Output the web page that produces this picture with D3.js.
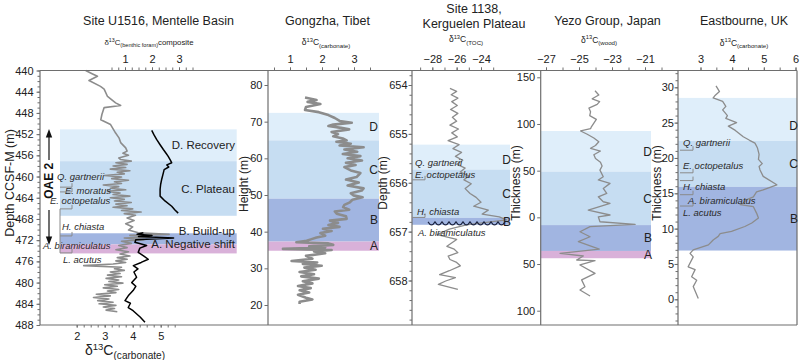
<!DOCTYPE html>
<html>
<head>
<meta charset="utf-8">
<script src="https://cdn.jsdelivr.net/npm/d3@7"></script>
<style>
body { margin: 0; background: #fff; }
svg text { font-family: "Liberation Sans", Arial, sans-serif; }
</style>
</head>
<body>
<div id="chart"></div>
<script>
// ---- Site U1516, Mentelle Basin ----
var u1516CarbDepth = [440.0, 440.6, 441.1, 441.9, 443.0, 443.5, 444.9, 446.1, 446.6, 447.0, 448.3, 449.3, 450.2, 451.0, 451.8, 452.7, 453.6, 454.6, 455.2, 455.6, 456.0, 456.5, 456.8, 457.1, 457.4, 457.7, 458.0, 458.3, 458.6, 458.9, 459.2, 459.5, 459.8, 460.1, 460.4, 460.7, 461.0, 461.3, 461.6, 461.9, 462.2, 462.5, 462.8, 463.1, 463.4, 463.7, 464.0, 464.3, 464.6, 464.9, 465.2, 465.5, 465.8, 466.1, 466.4, 466.7, 467.0, 467.3, 467.8, 468.3, 468.9, 469.5, 470.1, 470.6, 470.9, 471.1, 471.4, 471.6, 471.9, 472.2, 472.6, 473.0, 473.4, 473.8, 474.2, 474.6, 475.0, 475.3, 475.6, 475.9, 476.2, 476.5, 476.8, 477.1, 477.4, 477.7, 478.0, 478.3, 478.6, 478.9, 479.2, 479.5, 479.8, 480.1, 480.4, 480.7, 481.0, 481.3, 481.6, 481.9, 482.2, 482.5, 482.8, 483.1, 483.4, 483.7, 484.0, 484.3, 484.6, 484.9, 485.2, 485.5];
var u1516CarbValue = [2.32, 2.55, 2.74, 2.44, 2.85, 2.98, 3.10, 3.39, 3.57, 2.98, 2.90, 2.86, 3.21, 3.30, 3.39, 3.51, 3.57, 3.75, 3.80, 3.65, 3.85, 3.50, 3.57, 3.95, 3.40, 3.80, 3.30, 3.75, 3.20, 3.90, 3.45, 3.70, 3.00, 3.60, 3.25, 3.85, 3.35, 3.60, 2.95, 3.50, 3.20, 3.75, 3.10, 3.55, 3.30, 3.90, 3.20, 3.70, 3.35, 3.95, 3.40, 3.80, 3.30, 4.00, 3.60, 4.30, 3.70, 4.10, 3.80, 4.05, 3.75, 4.00, 3.85, 4.20, 5.30, 3.90, 4.60, 3.70, 4.40, 3.60, 3.95, 3.50, 3.80, 3.40, 3.85, 3.55, 3.90, 3.45, 3.80, 3.40, 3.75, 3.30, 2.25, 3.60, 3.35, 3.70, 3.20, 3.55, 3.10, 3.60, 3.05, 3.50, 3.15, 3.65, 3.00, 3.45, 2.95, 3.50, 3.10, 3.40, 2.70, 3.20, 2.60, 3.15, 2.75, 3.30, 2.80, 3.40, 2.95, 3.35, 3.05, 3.45];
// benthic composite, two segments (null = gap)
var u1516BenthicDepth = [451.3, 452.2, 453.0, 454.0, 454.9, 455.6, 456.2, 456.9, 457.4, 457.8, 458.2, 458.7, 459.3, 460.5, 461.5, 462.4, 463.7, 464.6, 465.6, 466.3, 466.9, null, 470.6, 470.9, 471.1, 471.3, 471.6, 471.9, 472.4, 473.0, 473.5, 474.3, 475.0, 475.6, 476.2, 476.8, 477.4, 478.0, 479.0, 480.0, 480.7, 481.5, 482.5, 483.4, 483.9, 484.7, 485.3, 486.5, 487.5];
var u1516BenthicValue = [1.99, 2.08, 2.17, 2.30, 2.42, 2.52, 2.60, 2.68, 2.73, 2.55, 2.62, 2.45, 2.42, 2.36, 2.32, 2.30, 2.30, 2.48, 2.73, 2.85, 2.97, null, 1.68, 1.45, 2.00, 1.50, 2.80, 1.40, 1.37, 1.80, 1.55, 1.49, 1.70, 1.86, 1.60, 1.31, 1.48, 1.33, 1.43, 1.25, 1.40, 1.30, 1.12, 1.00, 1.20, 1.12, 1.30, 1.56, 1.74];
var u1516BandTop = [451.1, 457.1, 470.7, 472.8];
var u1516BandBase = [457.1, 467.4, 472.8, 474.5];
var u1516BandLabels = ["D. Recovery", "C. Plateau", "B. Build-up", "A. Negative shift"];
var u1516Zones = ["Q. gartnerii", "E. moratus", "E. octopetalus", "H. chiasta", "A. biramiculatus", "L. acutus"];
var u1516ZoneDepth = [460.0, 462.6, 464.5, 469.4, 473.0, 475.7];
var u1516MarkDepth = [462.0, 462.9, 466.1, 471.2, 474.4];
var u1516DepthTicks = [440, 444, 448, 452, 456, 460, 464, 468, 472, 476, 480, 484, 488];
var u1516CarbTicks = [2, 3, 4, 5];
var u1516BenthicTicks = [1, 2, 3];

// ---- Gongzha, Tibet ----
var gongzhaHeight = [76.6, 75.9, 75.4, 74.8, 74.0, 73.2, 72.6, 71.8, 71.0, 70.2, 69.7, 69.2, 68.8, 68.3, 67.9, 67.2, 66.6, 66.0, 65.4, 64.9, 64.5, 64.0, 63.5, 63.0, 62.4, 61.8, 61.2, 60.6, 60.0, 59.4, 58.8, 58.2, 57.6, 56.7, 56.0, 54.9, 54.2, 53.4, 52.6, 51.8, 51.2, 50.5, 49.9, 49.4, 48.7, 48.0, 47.3, 46.7, 46.0, 45.5, 44.9, 44.2, 43.5, 43.0, 42.4, 41.8, 41.3, 40.8, 40.2, 39.6, 38.9, 38.4, 37.9, 37.5, 37.1, 36.8, 36.4, 36.0, 35.7, 35.3, 35.0, 34.6, 34.1, 33.4, 32.6, 32.0, 31.6, 31.2, 30.7, 30.2, 29.6, 29.0, 28.4, 27.8, 27.2, 26.5, 25.9, 25.2, 24.6, 24.0, 23.4, 22.8, 22.0, 21.5, 20.9, 20.3];
var gongzhaValue = [1.47, 1.83, 1.55, 1.95, 1.50, 1.47, 1.90, 2.20, 2.40, 2.55, 2.93, 2.35, 2.20, 2.60, 2.85, 2.30, 2.50, 2.35, 2.65, 2.77, 2.45, 2.90, 2.55, 3.30, 2.70, 3.10, 2.65, 3.20, 2.80, 3.25, 2.75, 3.05, 2.70, 2.90, 3.20, 3.08, 2.75, 3.15, 2.80, 3.30, 3.24, 2.90, 2.98, 3.27, 2.95, 2.87, 2.70, 2.66, 2.85, 2.40, 2.46, 2.75, 2.77, 2.25, 2.50, 2.20, 2.55, 2.03, 2.30, 1.95, 2.10, 1.83, 1.65, 1.52, 1.20, 2.20, 2.35, 1.60, 2.10, 0.78, 2.30, 1.75, 2.10, 1.50, 1.70, 1.05, 1.85, 1.40, 1.99, 1.45, 1.80, 1.30, 1.75, 1.35, 1.90, 1.40, 1.70, 1.25, 1.65, 1.30, 1.60, 1.25, 1.50, 1.70, 1.30, 1.30];
var gongzhaBandTop = [72.4, 64.9, 49.0, 37.3];
var gongzhaBandBase = [64.9, 49.0, 37.3, 34.8];
var gongzhaBandLabels = ["D", "C", "B", "A"];
var gongzhaHeightTicks = [20, 30, 40, 50, 60, 70, 80];
var gongzhaCarbTicks = [1, 2, 3];

// ---- Site 1138, Kerguelen Plateau ----
var kergDepth = [654.07, 654.13, 654.20, 654.27, 654.34, 654.42, 654.50, 654.58, 654.66, 654.74, 654.82, 654.90, 654.98, 655.06, 655.14, 655.22, 655.30, 655.38, 655.46, 655.54, 655.62, 655.70, 655.78, 655.86, 655.94, 656.02, 656.12, 656.22, 656.30, 656.40, 656.48, 656.56, 656.64, 656.70, 656.76, 656.86, 656.95, 657.06, 657.16, 657.30, 657.36, 657.43, 657.50, 657.57, 657.63, 657.70, 657.80, 657.88, 657.94, 658.01, 658.08, 658.18];
var kergValue = [-26.55, -26.00, -26.45, -25.90, -26.40, -25.95, -26.50, -25.90, -26.35, -26.00, -26.55, -25.85, -26.40, -25.95, -26.70, -25.80, -26.30, -25.60, -26.10, -25.50, -26.00, -25.30, -25.70, -25.00, -25.40, -24.80, -25.30, -24.90, -24.40, -24.00, -24.60, -23.40, -23.90, -22.50, -21.90, -25.20, -26.60, -27.60, -26.00, -26.80, -26.20, -25.90, -26.70, -26.55, -26.00, -25.70, -26.60, -27.40, -26.10, -26.90, -27.50, -25.90];
var kergBandTop = [655.22, 655.73, 656.72];
var kergBandBase = [655.73, 656.72, 656.86];
var kergBandLabels = ["D", "C", "B"];
var kergZones = ["Q. gartnerii", "E. octopetalus", "H. chiasta", "A. biramiculatus"];
var kergZoneDepth = [655.59, 655.84, 656.59, 657.03];
var kergMarkDepth = [655.94, 656.71];
var kergUnconformity = 656.8;
var kergDepthTicks = [654, 655, 656, 657, 658];
var kergTocTicks = [-28, -26, -24];

// ---- Yezo Group, Japan ----
var yezoThick = [135.6, 131, 127, 124, 121, 117, 113, 109, 105, 101, 97, 95, 92.5, 89, 85, 81, 77, 74, 71, 67, 63, 59, 55, 50.6, 43.5, 40, 36.4, 31, 25.7, 22, 16.7, 15, 7.8, 2.5, 0.6, -4.7, -7.5, -10, -15.4, -20.8, -26, -34, -38.5, -41.4, -45.7, -46.4, -51, -60, -67, -74.3, -77.8, -84.2];
var yezoValue = [-24.03, -23.80, -24.20, -23.75, -23.90, -24.40, -24.30, -24.35, -23.95, -24.10, -24.25, -24.30, -24.90, -24.50, -24.10, -23.80, -24.00, -24.30, -23.70, -24.10, -24.00, -23.70, -23.60, -23.73, -23.53, -23.83, -23.12, -23.53, -23.32, -23.83, -23.53, -23.12, -24.44, -23.12, -23.83, -23.73, -21.60, -24.33, -24.94, -24.33, -25.04, -23.77, -26.15, -24.74, -25.14, -24.03, -24.94, -24.03, -24.84, -24.64, -24.94, -24.33];
var yezoBandTop = [92.5, 49, -8.3, -36];
var yezoBandBase = [49, -8.3, -36, -43.8];
var yezoBandLabels = ["D", "C", "B", "A"];
var yezoThickTicks = [150, 100, 50, 0, -50, -100];
var yezoWoodTicks = [-27, -25, -23, -21];

// ---- Eastbourne, UK ----
var eastThick = [30.2, 29.4, 28.8, 28.5, 28.0, 27.3, 26.8, 26.0, 25.6, 25.0, 24.5, 23.9, 23.0, 22.5, 22.1, 21.4, 20.5, 19.8, 19.2, 18.8, 18.3, 17.4, 16.2, 15.5, 15.2, 14.5, 14.1, 13.6, 13.4, 13.1, 12.2, 11.5, 10.8, 10.3, 9.6, 9.3, 8.9, 8.4, 7.7, 7.0, 6.5, 6.0, 4.6, 4.2, 3.2, 2.7, 1.8, 0.1];
var eastValue = [3.49, 3.60, 3.45, 3.40, 3.70, 3.80, 3.70, 3.85, 3.80, 4.14, 3.88, 4.10, 4.35, 4.55, 4.72, 4.80, 4.85, 4.83, 4.95, 4.85, 4.88, 4.98, 5.41, 4.98, 4.77, 4.67, 4.46, 4.35, 4.25, 4.67, 4.77, 4.83, 4.62, 4.40, 3.98, 3.62, 3.56, 3.40, 3.25, 2.77, 2.67, 2.77, 2.61, 2.83, 2.72, 2.88, 2.77, 2.93];
var eastBandTop = [28.5, 22.4, 15.9];
var eastBandBase = [22.4, 15.9, 6.9];
var eastBandLabels = ["D", "C", "B"];
var eastZones = ["Q. gartnerii", "E. octopetalus", "H. chiasta", "A. biramiculatus", "L. acutus"];
var eastZoneDepth = [22.2, 18.9, 15.9, 14.0, 12.3];
var eastMarkDepth = [21.1, 17.9, 16.8, 14.8, 13.2];
var eastThickTicks = [0, 5, 10, 15, 20, 25, 30];
var eastCarbTicks = [3, 4, 5, 6];

// ---- layout ----
var W = 800, H = 360;
var frameTop = 70.5, frameBottom = 325;
var bandFill = { D: "#dfeefa", C: "#c6ddf2", B: "#a1b5e1", A: "#d9b1d9" };
var axisColor = "#6e6e6e", textColor = "#222", curveGrey = "#8c8c8c";

var svg = d3.select("#chart").append("svg")
	.attr("width", W)
	.attr("height", H)
	.style("background-color", "white");

var gBands = svg.append("g"),
	gCurves = svg.append("g"),
	gAxes = svg.append("g"),
	gText = svg.append("g");

function styleAxis(sel) {
	sel.select(".domain").remove();
	sel.selectAll(".tick line").attr("stroke", axisColor);
	sel.selectAll(".tick text").attr("fill", textColor).attr("font-size", 11);
}

function topAxis(x, major, minor) {
	gAxes.append("g")
		.attr("transform", "translate(0," + frameTop + ")")
		.call(d3.axisTop(x).tickValues(minor).tickSize(3).tickFormat(""))
		.call(styleAxis);
	gAxes.append("g")
		.attr("transform", "translate(0," + frameTop + ")")
		.call(d3.axisTop(x).tickValues(major).tickSize(3).tickPadding(5).tickFormat(d3.format("d")))
		.call(styleAxis);
}

function leftAxis(left, y, major, minor, pad, fmt) {
	if (minor) {
		gAxes.append("g")
			.attr("transform", "translate(" + left + ",0)")
			.call(d3.axisLeft(y).tickValues(minor).tickSize(2.5).tickFormat(""))
			.call(styleAxis);
	}
	gAxes.append("g")
		.attr("transform", "translate(" + left + ",0)")
		.call(d3.axisLeft(y).tickValues(major).tickSize(3.5).tickPadding(pad).tickFormat(fmt || d3.format("d")))
		.call(styleAxis);
}

function bands(x0, x1, y, tops, bases, names) {
	tops.forEach(function(t, i) {
		var key = names[i].charAt(0);
		gBands.append("rect")
			.attr("x", x0)
			.attr("width", x1 - x0)
			.attr("y", Math.min(y(t), y(bases[i])))
			.attr("height", Math.abs(y(bases[i]) - y(t)))
			.attr("fill", bandFill[key]);
	});
}

function bandText(xr, y, tops, bases, names, size, shift) {
	tops.forEach(function(t, i) {
		gText.append("text")
			.attr("x", xr)
			.attr("y", (y(t) + y(bases[i])) / 2 + (shift ? shift[i] : 0))
			.attr("dy", "0.36em")
			.attr("text-anchor", "end")
			.attr("font-size", size)
			.attr("fill", textColor)
			.text(names[i]);
	});
}

function curve(x, y, depths, values, color, width) {
	var pts = d3.zip(depths, values);
	gCurves.append("path")
		.datum(pts)
		.attr("fill", "none")
		.attr("stroke", color)
		.attr("stroke-width", width)
		.attr("stroke-linejoin", "round")
		.attr("d", d3.line()
			.defined(function(d) { return d[0] != null; })
			.x(function(d) { return x(d[1]); })
			.y(function(d) { return y(d[0]); }));
}

function zoneLabels(y, names, depths, xs) {
	names.forEach(function(n, i) {
		gText.append("text")
			.attr("x", xs[i])
			.attr("y", y(depths[i]))
			.attr("dy", "0.35em")
			.attr("font-size", 9.5)
			.attr("font-style", "italic")
			.attr("fill", "#2a2a2a")
			.text(n);
	});
}

function marks(y, depths, x0, x1) {
	depths.forEach(function(d) {
		var yy = y(d);
		gText.append("path")
			.attr("d", "M" + x0 + "," + yy + "H" + x1 + "V" + (yy - 4))
			.attr("fill", "none")
			.attr("stroke", "#8a8a8a")
			.attr("stroke-width", 1);
	});
}

function title(x, y, txt, size) {
	gText.append("text")
		.attr("x", x).attr("y", y)
		.attr("text-anchor", "middle")
		.attr("font-size", size || 12.5)
		.attr("fill", textColor)
		.text(txt);
}

function isotope(x, y, sub, size, suffix) {
	var t = gText.append("text")
		.attr("x", x).attr("y", y)
		.attr("text-anchor", "middle")
		.attr("font-size", size)
		.attr("fill", textColor);
	t.append("tspan").text("δ");
	t.append("tspan").attr("font-size", size * 0.68).attr("dy", -size * 0.38).text("13");
	t.append("tspan").attr("dy", size * 0.38).text("C");
	t.append("tspan").attr("font-size", size * 0.72).attr("dy", size * 0.3).text(sub);
	if (suffix) t.append("tspan").attr("dy", -size * 0.3).text(suffix);
}

function yTitle(x, y, txt, size) {
	gText.append("text")
		.attr("transform", "translate(" + x + "," + y + ") rotate(-90)")
		.attr("text-anchor", "middle")
		.attr("dy", "0.36em")
		.attr("font-size", size || 12)
		.attr("fill", textColor)
		.text(txt);
}

// ---- panel 1: Site U1516 ----
var y1 = d3.scaleLinear().domain([440, 488]).range([frameTop, frameBottom]);
var x1Carb = d3.scaleLinear().domain([2, 5]).range([76.7, 160.7]);
var x1Benthic = d3.scaleLinear().domain([1, 3]).range([125, 179]);

bands(60, 236.7, y1, u1516BandTop, u1516BandBase, u1516BandLabels);
curve(x1Carb, y1, u1516CarbDepth, u1516CarbValue, curveGrey, 1.6);
curve(x1Benthic, y1, u1516BenthicDepth, u1516BenthicValue, "#000", 1.5);
topAxis(x1Benthic, u1516BenthicTicks, d3.range(0.5, 3.51, 0.25));
gAxes.append("g")
	.attr("transform", "translate(0," + frameBottom + ")")
	.call(d3.axisBottom(x1Carb).tickValues(d3.range(2, 5.51, 0.25)).tickSize(2.5).tickFormat(""))
	.call(styleAxis);
gAxes.append("g")
	.attr("transform", "translate(0," + frameBottom + ")")
	.call(d3.axisBottom(x1Carb).tickValues(u1516CarbTicks).tickSize(2.5).tickPadding(5).tickFormat(d3.format("d")))
	.call(styleAxis);
leftAxis(40, y1, u1516DepthTicks, d3.range(440, 488.1, 1), 3);
bandText(235, y1, u1516BandTop, u1516BandBase, u1516BandLabels, 11.5, [0, 0, -8, -5]);
zoneLabels(y1, u1516Zones, u1516ZoneDepth, [57, 65, 50, 62, 43, 63]);
marks(y1, u1516MarkDepth, 60, 72);
gText.append("line")
	.attr("x1", 60).attr("x2", 60)
	.attr("y1", y1(u1516MarkDepth[2])).attr("y2", y1(u1516MarkDepth[4]))
	.attr("stroke", "#8a8a8a");

// OAE 2 arrows
gText.append("text")
	.attr("transform", "translate(49," + y1(460.8) + ") rotate(-90)")
	.attr("text-anchor", "middle")
	.attr("dy", "0.36em")
	.attr("font-size", 12)
	.attr("font-weight", "bold")
	.attr("fill", "#111")
	.text("OAE 2");
gText.append("line").attr("x1", 49).attr("x2", 49).attr("y1", 160).attr("y2", 136).attr("stroke", "#111").attr("stroke-width", 1.2);
gText.append("path").attr("d", "M49,129L45.8,137.5H52.2Z").attr("fill", "#111");
gText.append("line").attr("x1", 49).attr("x2", 49).attr("y1", 210).attr("y2", 238).attr("stroke", "#111").attr("stroke-width", 1.2);
gText.append("path").attr("d", "M49,245L45.8,236.5H52.2Z").attr("fill", "#111");

title(158.5, 24.5, "Site U1516, Mentelle Basin");
isotope(149, 45, "(benthic foram)", 7.8, "composite");
isotope(125, 355, "(carbonate)", 14);
yTitle(9, 183, "Depth CCSF-M (m)", 12.5);

// ---- panel 2: Gongzha ----
var y2 = d3.scaleLinear().domain([20, 80]).range([305, 85]);
var x2 = d3.scaleLinear().domain([1, 3]).range([290, 354]);
bands(268, 379, y2, gongzhaBandTop, gongzhaBandBase, gongzhaBandLabels);
curve(x2, y2, gongzhaHeight, gongzhaValue, curveGrey, 2.6);
topAxis(x2, gongzhaCarbTicks, d3.range(0.5, 3.51, 0.5));
leftAxis(268, y2, gongzhaHeightTicks, null, 2);
bandText(378, y2, gongzhaBandTop, gongzhaBandBase, gongzhaBandLabels, 12);
title(327.5, 24.5, "Gongzha, Tibet");
isotope(326, 45, "(carbonate)", 8.5);
yTitle(244, 184, "Height (m)", 12);

// ---- panel 3: Site 1138 ----
var y3 = d3.scaleLinear().domain([654, 658]).range([85, 280.5]);
var x3 = d3.scaleLinear().domain([-28, -24]).range([432.3, 481]);
bands(412, 510, y3, kergBandTop, kergBandBase, kergBandLabels);
curve(x3, y3, kergDepth, kergValue, curveGrey, 1.3);
topAxis(x3, kergTocTicks, d3.range(-29, -22.9, 1));
leftAxis(412, y3, kergDepthTicks, d3.range(653.8, 658.85, 0.2), 1);
bandText(511, y3, kergBandTop, kergBandBase, kergBandLabels, 12, [3, 0, 0]);
zoneLabels(y3, kergZones, kergZoneDepth, [415, 415, 417, 418]);
marks(y3, kergMarkDepth, 412, 425);
// unconformity wave
var wy = y3(kergUnconformity), wave = "M428," + wy;
d3.range(428, 505, 7).forEach(function(wx) {
	wave += "Q" + (wx + 3.5) + "," + (wy + 6) + " " + (wx + 7) + "," + wy;
});
gText.append("path").attr("d", wave).attr("fill", "none").attr("stroke", "#1b2340").attr("stroke-width", 1.1);
title(474, 12.5, "Site 1138,");
title(474, 27.5, "Kerguelen Plateau");
isotope(466, 42, "(TOC)", 8.5);
yTitle(383, 183, "Depth (m)", 12);

// ---- panel 4: Yezo Group ----
var y4 = d3.scaleLinear().domain([150, -100]).range([77.3, 310.7]);
var x4 = d3.scaleLinear().domain([-27, -21]).range([546, 645]);
bands(540.7, 651, y4, yezoBandTop, yezoBandBase, yezoBandLabels);
curve(x4, y4, yezoThick, yezoValue, curveGrey, 1.3);
topAxis(x4, yezoWoodTicks, d3.range(-27, -19.9, 1));
leftAxis(540.7, y4, yezoThickTicks, null, 2, function(d) { return Math.abs(d); });
bandText(652, y4, yezoBandTop, yezoBandBase, yezoBandLabels, 12);
title(607.5, 24.5, "Yezo Group, Japan");
isotope(599, 42.5, "(wood)", 8.5);
yTitle(516, 183, "Thickness (m)", 12);

// ---- panel 5: Eastbourne ----
var y5 = d3.scaleLinear().domain([0, 30]).range([299.3, 87.3]);
var x5 = d3.scaleLinear().domain([3, 6]).range([700.5, 795.5]);
bands(678, 797, y5, eastBandTop, eastBandBase, eastBandLabels);
curve(x5, y5, eastThick, eastValue, curveGrey, 1.3);
topAxis(x5, eastCarbTicks, d3.range(3, 6.01, 0.5));
leftAxis(678, y5, eastThickTicks, d3.range(-3, 32.1, 1), 0.5);
bandText(798, y5, eastBandTop, eastBandBase, eastBandLabels, 12, [6, 0, 0]);
zoneLabels(y5, eastZones, eastZoneDepth, [683, 683, 683, 688, 683]);
marks(y5, eastMarkDepth, 680, 693);
title(744, 24.5, "Eastbourne, UK");
isotope(744, 45.5, "(carbonate)", 8.5);
yTitle(657, 183, "Thickness (m)", 12);

// ---- frame ----
var frame = gAxes.append("g").attr("stroke", axisColor).attr("stroke-width", 1.2).attr("fill", "none");
frame.append("line").attr("x1", 40).attr("x2", 797).attr("y1", frameTop).attr("y2", frameTop);
frame.append("line").attr("x1", 40).attr("x2", 797).attr("y1", frameBottom).attr("y2", frameBottom);
[40, 268, 412, 540.7, 678, 797].forEach(function(fx) {
	frame.append("line").attr("x1", fx).attr("x2", fx).attr("y1", frameTop).attr("y2", frameBottom);
});
</script>
</body>
</html>
